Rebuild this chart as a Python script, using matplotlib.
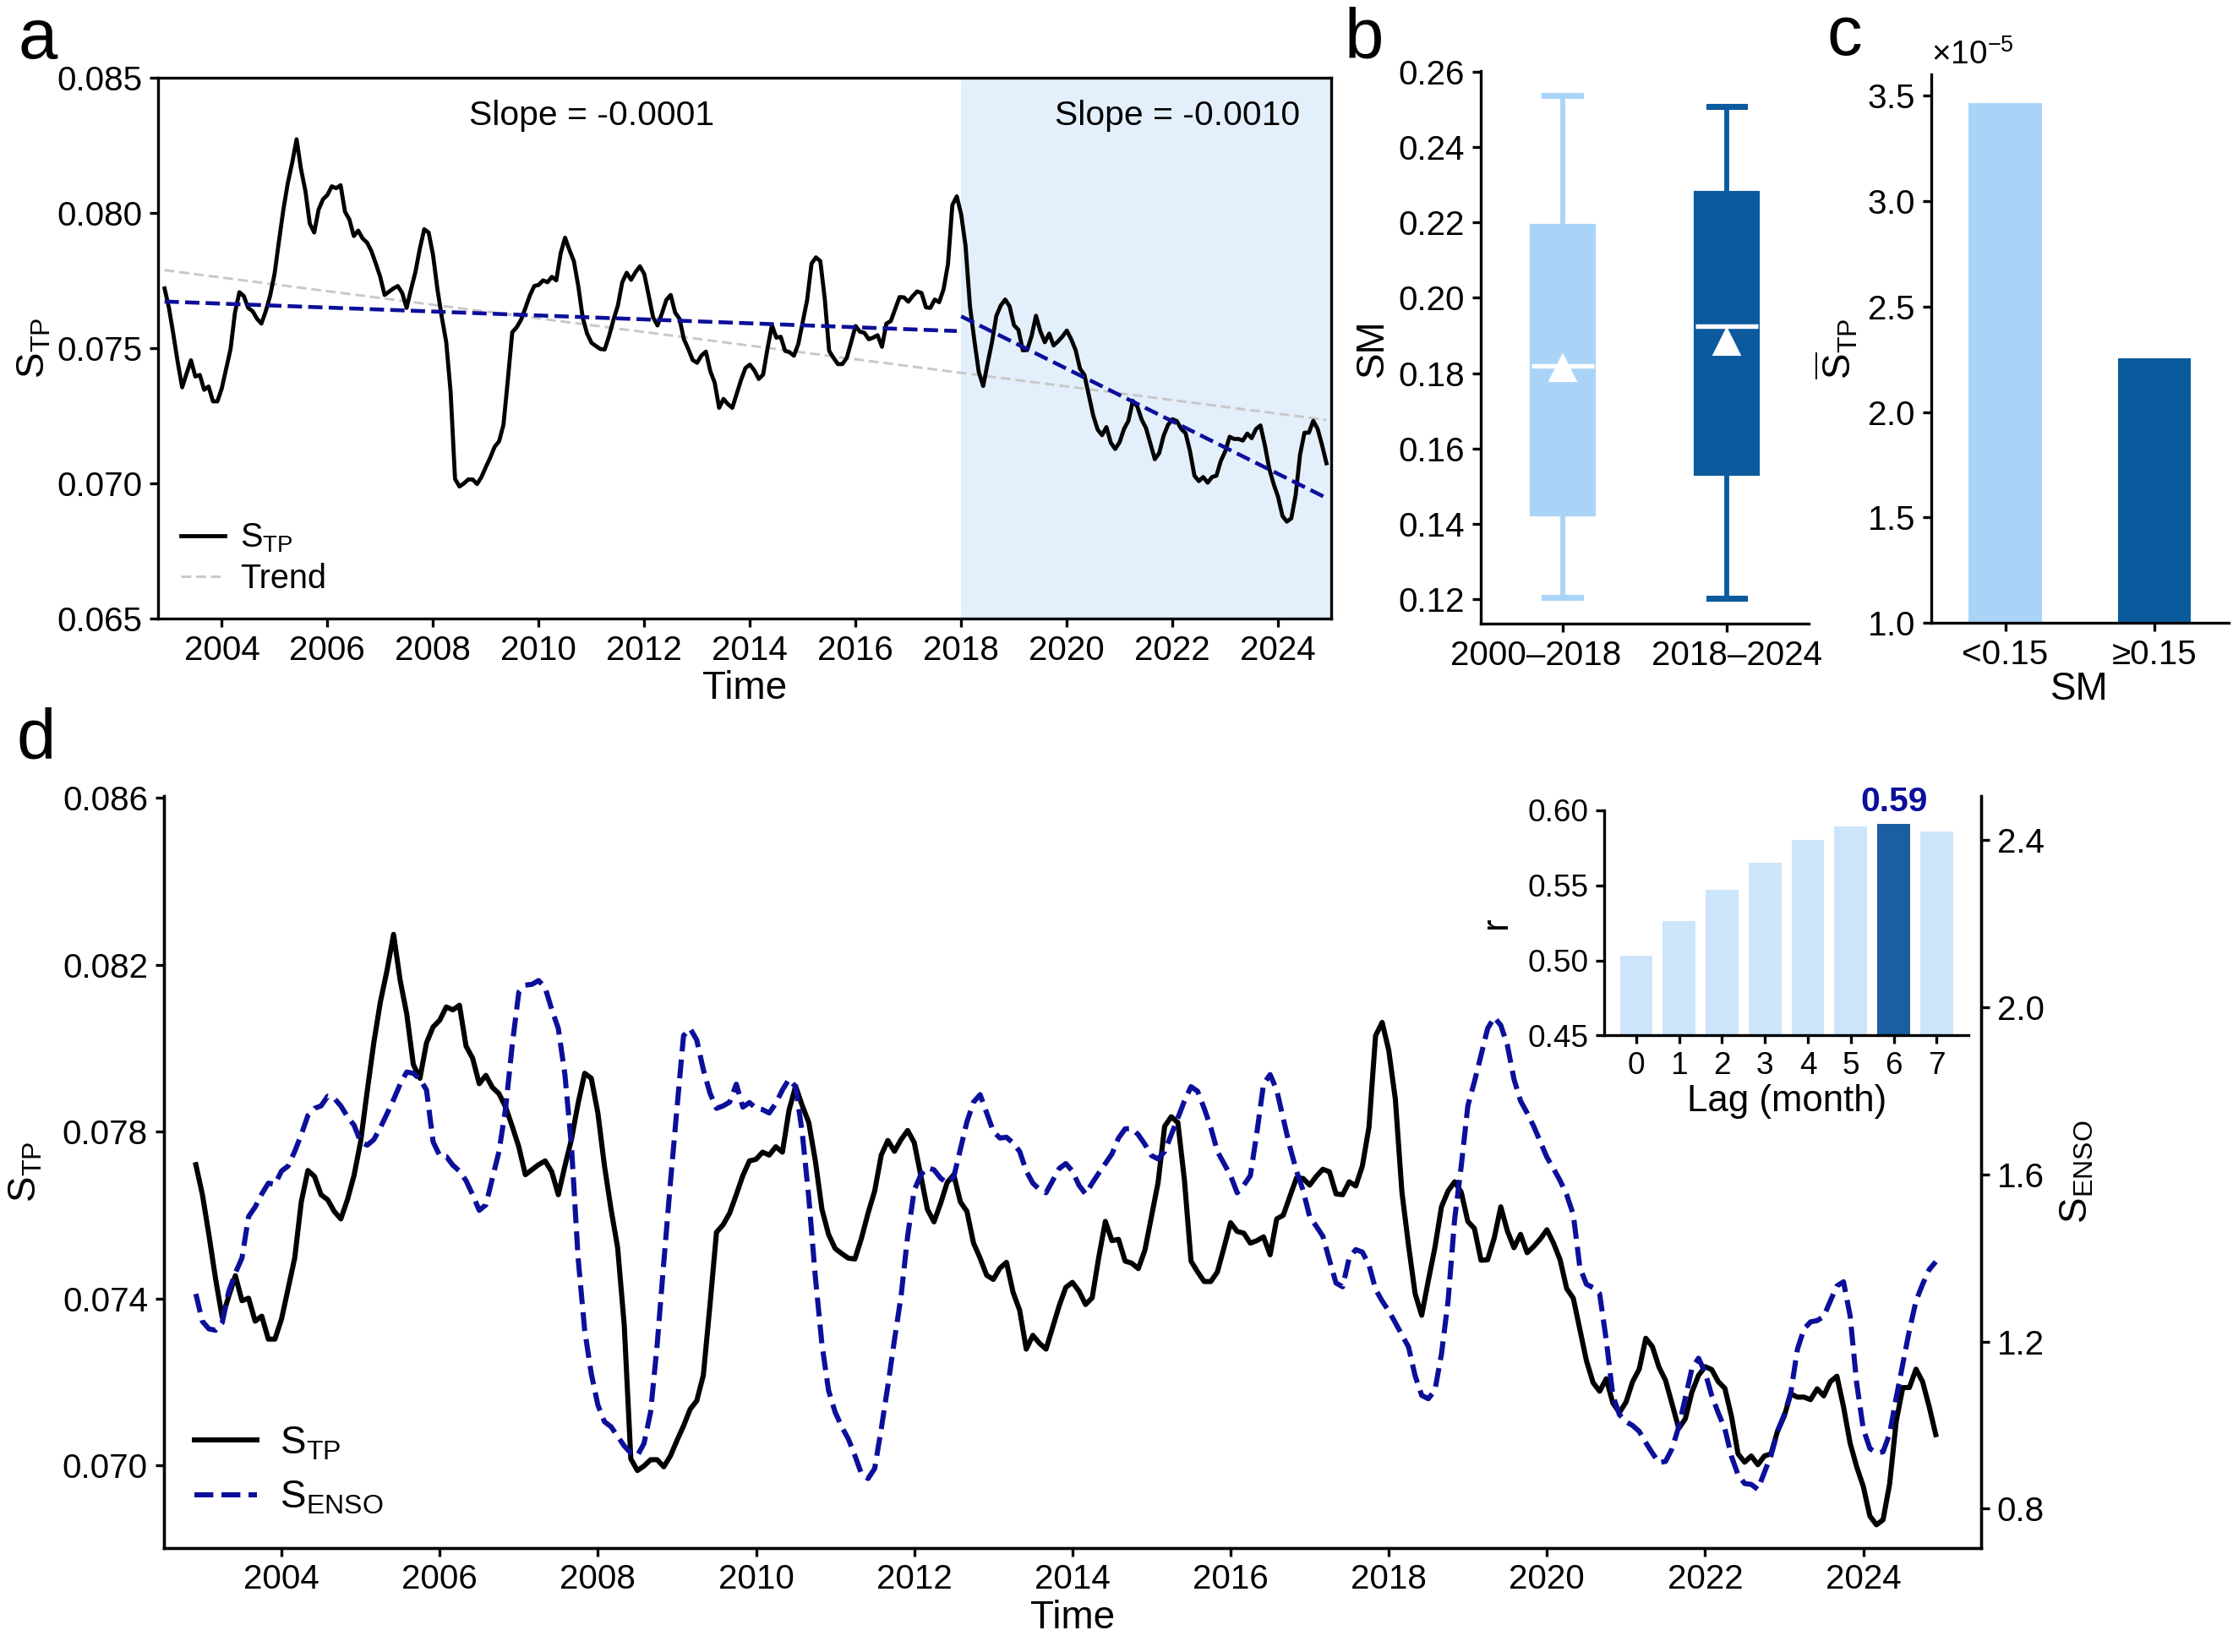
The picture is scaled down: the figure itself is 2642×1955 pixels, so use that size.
import numpy as np
import pandas as pd
import matplotlib
matplotlib.use('Agg')
import matplotlib.pyplot as plt
import matplotlib.transforms as mtransforms
from matplotlib.ticker import ScalarFormatter

plt.rcParams['font.family'] = ['Liberation Sans', 'DejaVu Sans']
plt.rcParams['mathtext.fontset'] = 'custom'
plt.rcParams['mathtext.rm'] = 'Liberation Sans'
plt.rcParams['mathtext.it'] = 'Liberation Sans:italic'
plt.rcParams['mathtext.bf'] = 'Liberation Sans:bold'
plt.rcParams['axes.linewidth'] = 0.8
plt.rcParams['xtick.major.width'] = 0.8
plt.rcParams['ytick.major.width'] = 0.8
plt.rcParams['xtick.major.size'] = 2.5
plt.rcParams['ytick.major.size'] = 2.5
plt.rcParams['xtick.major.pad'] = 2
plt.rcParams['ytick.major.pad'] = 2
plt.rcParams['xtick.labelsize'] = 9.7
plt.rcParams['ytick.labelsize'] = 9.7

# monthly series, Dec 2002 - Dec 2024
months = pd.date_range('2002-12-01', '2024-12-01', freq='MS')
t = np.asarray(months.year + (months.month - 1) / 12.0)

s_tp = [
    0.07721, 0.07649, 0.07551, 0.07447, 0.07355, 0.07406, 0.07455, 0.07395, 0.07401, 0.07346,
    0.07358, 0.07303, 0.07303, 0.07351, 0.07424, 0.07497, 0.07632, 0.07707, 0.07693, 0.07649,
    0.07637, 0.07609, 0.07591, 0.07637, 0.07695, 0.07776, 0.07897, 0.08013, 0.08111, 0.08186,
    0.08273, 0.08163, 0.08082, 0.07961, 0.07928, 0.08013, 0.08051, 0.08067, 0.08099, 0.08092,
    0.08103, 0.08005, 0.07976, 0.07915, 0.07935, 0.07906, 0.07891, 0.07859, 0.07813, 0.07764,
    0.07697, 0.07709, 0.07721, 0.07730, 0.07704, 0.07649, 0.07718, 0.07782, 0.07868, 0.07940,
    0.07928, 0.07845, 0.07718, 0.07614, 0.07522, 0.07337, 0.07016, 0.06988, 0.06999, 0.07014,
    0.07014, 0.06997, 0.07023, 0.07060, 0.07095, 0.07135, 0.07155, 0.07216, 0.07383, 0.07559,
    0.07577, 0.07605, 0.07649, 0.07695, 0.07730, 0.07734, 0.07751, 0.07744, 0.07764, 0.07751,
    0.07851, 0.07909, 0.07863, 0.07822, 0.07730, 0.07614, 0.07554, 0.07520, 0.07508, 0.07497,
    0.07495, 0.07545, 0.07605, 0.07658, 0.07744, 0.07779, 0.07753, 0.07781, 0.07803, 0.07774,
    0.07695, 0.07614, 0.07584, 0.07628, 0.07678, 0.07697, 0.07632, 0.07609, 0.07533, 0.07497,
    0.07456, 0.07446, 0.07473, 0.07487, 0.07415, 0.07372, 0.07279, 0.07312, 0.07293, 0.07279,
    0.07331, 0.07383, 0.07427, 0.07439, 0.07418, 0.07386, 0.07402, 0.07499, 0.07585, 0.07539,
    0.07542, 0.07490, 0.07485, 0.07472, 0.07516, 0.07597, 0.07678, 0.07813, 0.07836, 0.07822,
    0.07684, 0.07490, 0.07464, 0.07441, 0.07441, 0.07464, 0.07522, 0.07582, 0.07561, 0.07557,
    0.07533, 0.07539, 0.07548, 0.07505, 0.07591, 0.07600, 0.07645, 0.07689, 0.07688, 0.07672,
    0.07693, 0.07710, 0.07704, 0.07651, 0.07649, 0.07680, 0.07670, 0.07718, 0.07811, 0.08030,
    0.08062, 0.07995, 0.07878, 0.07655, 0.07528, 0.07412, 0.07360, 0.07443, 0.07522, 0.07620,
    0.07658, 0.07680, 0.07655, 0.07585, 0.07568, 0.07492, 0.07493, 0.07545, 0.07620, 0.07562,
    0.07522, 0.07554, 0.07510, 0.07525, 0.07543, 0.07565, 0.07533, 0.07493, 0.07424, 0.07401,
    0.07326, 0.07251, 0.07199, 0.07178, 0.07208, 0.07150, 0.07127, 0.07152, 0.07201, 0.07231,
    0.07305, 0.07285, 0.07236, 0.07204, 0.07147, 0.07089, 0.07112, 0.07176, 0.07216, 0.07237,
    0.07230, 0.07201, 0.07185, 0.07118, 0.07028, 0.07008, 0.07023, 0.07002, 0.07023, 0.07028,
    0.07083, 0.07118, 0.07172, 0.07164, 0.07164, 0.07158, 0.07184, 0.07167, 0.07201, 0.07214,
    0.07141, 0.07054, 0.06997, 0.06950, 0.06879, 0.06858, 0.06870, 0.06956, 0.07106, 0.07187,
    0.07187, 0.07231, 0.07201, 0.07141, 0.07074,
]

s_enso = [
    1.314, 1.248, 1.230, 1.227, 1.245, 1.320, 1.364, 1.400, 1.499, 1.522,
    1.553, 1.579, 1.576, 1.608, 1.620, 1.655, 1.695, 1.741, 1.758, 1.764,
    1.787, 1.782, 1.764, 1.738, 1.718, 1.678, 1.670, 1.683, 1.712, 1.745,
    1.779, 1.816, 1.845, 1.842, 1.828, 1.802, 1.678, 1.645, 1.643, 1.622,
    1.608, 1.585, 1.551, 1.514, 1.527, 1.591, 1.655, 1.758, 1.909, 2.036,
    2.053, 2.055, 2.064, 2.047, 1.995, 1.949, 1.839, 1.666, 1.400, 1.227,
    1.123, 1.048, 1.008, 0.996, 0.973, 0.950, 0.933, 0.927, 0.956, 1.031,
    1.193, 1.389, 1.579, 1.758, 1.932, 1.949, 1.922, 1.851, 1.795, 1.758,
    1.764, 1.773, 1.816, 1.761, 1.772, 1.758, 1.755, 1.747, 1.770, 1.802,
    1.828, 1.810, 1.701, 1.545, 1.354, 1.193, 1.083, 1.031, 0.996, 0.967,
    0.927, 0.883, 0.872, 0.896, 0.991, 1.094, 1.204, 1.308, 1.452, 1.562,
    1.599, 1.616, 1.611, 1.591, 1.579, 1.594, 1.660, 1.726, 1.773, 1.791,
    1.747, 1.703, 1.687, 1.689, 1.675, 1.655, 1.608, 1.579, 1.564, 1.556,
    1.585, 1.614, 1.626, 1.608, 1.574, 1.553, 1.579, 1.603, 1.626, 1.649,
    1.687, 1.709, 1.710, 1.695, 1.672, 1.645, 1.637, 1.655, 1.695, 1.735,
    1.776, 1.810, 1.799, 1.758, 1.712, 1.655, 1.626, 1.597, 1.556, 1.574,
    1.597, 1.701, 1.816, 1.839, 1.802, 1.733, 1.666, 1.608, 1.562, 1.499,
    1.476, 1.452, 1.395, 1.340, 1.331, 1.400, 1.420, 1.414, 1.383, 1.325,
    1.297, 1.273, 1.245, 1.216, 1.187, 1.118, 1.071, 1.063, 1.083, 1.170,
    1.297, 1.493, 1.620, 1.764, 1.822, 1.885, 1.949, 1.976, 1.957, 1.909,
    1.828, 1.776, 1.747, 1.715, 1.678, 1.641, 1.614, 1.585, 1.551, 1.504,
    1.377, 1.337, 1.329, 1.314, 1.204, 1.071, 1.025, 1.008, 0.999, 0.985,
    0.958, 0.933, 0.910, 0.913, 0.944, 0.996, 1.066, 1.135, 1.160, 1.126,
    1.071, 1.029, 0.991, 0.925, 0.881, 0.860, 0.858, 0.846, 0.887, 0.927,
    0.985, 1.025, 1.077, 1.181, 1.230, 1.247, 1.250, 1.260, 1.297, 1.333,
    1.343, 1.262, 1.100, 0.991, 0.944, 0.933, 0.936, 0.979, 1.066, 1.146,
    1.227, 1.297, 1.337, 1.372, 1.391,
]

# panel b: SM box statistics per period
periods = ['2000–2018', '2018–2024']
sm_whislo = [0.1204, 0.1202]
sm_q1 = [0.1425, 0.1532]
sm_med = [0.1820, 0.1924]
sm_q3 = [0.2191, 0.2278]
sm_whishi = [0.2536, 0.2509]
sm_mean = [0.1812, 0.1881]

# panel c: mean S_TP by SM class
sm_classes = ['<0.15', '≥0.15']
stp_by_sm = [3.467e-5, 2.254e-5]

# inset: lagged correlation
lags = [0, 1, 2, 3, 4, 5, 6, 7]
r_lag = [0.503, 0.526, 0.547, 0.565, 0.580, 0.589, 0.591, 0.586]

slope_texts = ['Slope = -0.0001', 'Slope = -0.0010']

light = '#a9d4f8'
dark = '#0b5a9e'
navy = '#0c0f9a'
s_tp = np.array(s_tp)
s_enso = np.array(s_enso)

fig = plt.figure(figsize=(2642 / 300, 1955 / 300), dpi=300)

# ---------------- panel a ----------------
ax_a = fig.add_axes([0.0707, 0.6257, 0.5253, 0.3271])
ax_a.axvspan(2018, 2025.0, color='#e3effb', lw=0, zorder=0)
ax_a.plot(t, s_tp, color='black', lw=1.15, label=r'S$_{\mathrm{TP}}$', zorder=3)
p_all = np.polyfit(t, s_tp, 1)
ax_a.plot(t, np.polyval(p_all, t), color='#c8c8c8', lw=0.7, ls=(0, (4, 2)), label='Trend', zorder=2)
seg1 = t < 2018
seg2 = t >= 2018
for seg in [seg1, seg2]:
    p = np.polyfit(t[seg], s_tp[seg], 1)
    ax_a.plot(t[seg], np.polyval(p, t[seg]), color=navy, lw=1.1, ls='--', zorder=4)
ax_a.text(2011.0, 0.0836, slope_texts[0], ha='center', va='center', fontsize=9.8)
ax_a.text(2022.1, 0.0836, slope_texts[1], ha='center', va='center', fontsize=9.8)
ax_a.set_xlim(2002.79, 2025.0)
ax_a.set_ylim(0.065, 0.085)
ax_a.set_yticks([0.065, 0.070, 0.075, 0.080, 0.085])
ax_a.set_yticklabels(['0.065', '0.070', '0.075', '0.080', '0.085'])
ax_a.set_xticks(np.arange(2004, 2025, 2))
ax_a.set_xlabel('Time', fontsize=11, labelpad=1)
ax_a.set_ylabel(r'S$_{\mathrm{TP}}$', fontsize=11, labelpad=1)
ax_a.legend(loc='lower left', frameon=False, fontsize=9.5, handlelength=1.3,
            handletextpad=0.45, labelspacing=0.25, borderaxespad=0.3)

# ---------------- panel b ----------------
ax_b = fig.add_axes([0.663, 0.6223, 0.147, 0.3347])
stats = []
for i in range(2):
    stats.append(dict(label=periods[i], whislo=sm_whislo[i], q1=sm_q1[i], med=sm_med[i],
                      q3=sm_q3[i], whishi=sm_whishi[i], mean=sm_mean[i], fliers=[]))
bp = ax_b.bxp(stats, positions=[1, 2], widths=0.38, showmeans=True, patch_artist=True,
              showfliers=False)
for i, c in enumerate([light, dark]):
    bp['boxes'][i].set_facecolor(c)
    bp['boxes'][i].set_edgecolor(c)
    for w in bp['whiskers'][2 * i:2 * i + 2]:
        w.set_color(c)
        w.set_linewidth(1.4)
    for cp in bp['caps'][2 * i:2 * i + 2]:
        cp.set_color(c)
        cp.set_linewidth(1.7)
    bp['medians'][i].set_color('white')
    bp['medians'][i].set_linewidth(1.3)
    bp['means'][i].set_marker('^')
    bp['means'][i].set_markerfacecolor('white')
    bp['means'][i].set_markeredgecolor('white')
    bp['means'][i].set_markersize(6.5)
for cp in bp['caps']:
    mid = np.mean(cp.get_xdata())
    cp.set_xdata([mid - 0.11, mid + 0.11])
ax_b.set_xlim(0.5, 2.5)
ax_b.set_ylim(0.1134, 0.2602)
ax_b.set_yticks(np.arange(0.12, 0.261, 0.02))
ax_b.set_yticklabels(['%.2f' % v for v in np.arange(0.12, 0.261, 0.02)])
ax_b.set_ylabel('SM', fontsize=11, labelpad=2)
ax_b.spines['top'].set_visible(False)
ax_b.spines['right'].set_visible(False)
for lab, dx in zip(ax_b.get_xticklabels(), [-7.5, 3.0]):
    lab.set_transform(lab.get_transform() +
                      mtransforms.ScaledTranslation(dx / 72, 0, fig.dpi_scale_trans))

# ---------------- panel c ----------------
ax_c = fig.add_axes([0.8647, 0.6229, 0.1333, 0.3319])
ax_c.bar([0, 1], stp_by_sm, width=0.49, color=[light, dark])
ax_c.set_xlim(-0.5, 1.5)
ax_c.set_ylim(1.0e-5, 3.6e-5)
ax_c.set_yticks(np.arange(1.0, 3.51, 0.5) * 1e-5)
fmt = ScalarFormatter(useMathText=True)
fmt.set_powerlimits((0, 0))
ax_c.yaxis.set_major_formatter(fmt)
ax_c.yaxis.get_offset_text().set_fontsize(9.3)
ax_c.set_xticks([0, 1])
ax_c.set_xticklabels(sm_classes)
ax_c.set_xlabel('SM', fontsize=11, labelpad=0)
ax_c.set_ylabel(r'$\overline{\mathrm{S}}_{\mathrm{TP}}$', fontsize=11, labelpad=2)
ax_c.spines['top'].set_visible(False)
ax_c.spines['right'].set_visible(False)

# ---------------- panel d ----------------
ax_d = fig.add_axes([0.0733, 0.0631, 0.8139, 0.4552])
l1, = ax_d.plot(t, s_tp, color='black', lw=1.45, label=r'S$_{\mathrm{TP}}$')
ax_d.set_xlim(2002.51, 2025.49)
ax_d.set_ylim(0.06803, 0.08605)
ax_d.set_yticks([0.070, 0.074, 0.078, 0.082, 0.086])
ax_d.set_yticklabels(['0.070', '0.074', '0.078', '0.082', '0.086'])
ax_d.set_xticks(np.arange(2004, 2025, 2))
ax_d.set_xlabel('Time', fontsize=11, labelpad=1)
ax_d.set_ylabel(r'S$_{\mathrm{TP}}$', fontsize=11, labelpad=5)
ax_d.spines['top'].set_visible(False)

ax_d2 = ax_d.twinx()
l2, = ax_d2.plot(t, s_enso, color=navy, lw=1.45, ls='--', label=r'S$_{\mathrm{ENSO}}$')
ax_d2.set_ylim(0.7063, 2.5063)
ax_d2.set_yticks([0.8, 1.2, 1.6, 2.0, 2.4])
ax_d2.set_ylabel(r'S$_{\mathrm{ENSO}}$', fontsize=11, labelpad=4)
ax_d2.spines['top'].set_visible(False)
ax_d2.legend(handles=[l1, l2], loc='lower left', frameon=False, fontsize=11,
             handlelength=1.6, handletextpad=0.6, labelspacing=0.45, borderaxespad=0.4)

# inset: lag correlation
ax_in = fig.add_axes([0.7185, 0.3732, 0.1632, 0.1364])
ax_in.patch.set_alpha(0)
bar_cols = ['#cce5fb'] * len(lags)
imax = int(np.argmax(r_lag))
bar_cols[imax] = '#1a5fa0'
ax_in.bar(lags, r_lag, width=0.76, color=bar_cols)
ax_in.text(lags[imax], r_lag[imax] + 0.004, '%.2f' % r_lag[imax], ha='center', va='bottom',
           fontsize=9.8, fontweight='bold', color=navy)
ax_in.set_xlim(-0.74, 7.75)
ax_in.set_ylim(0.45, 0.60)
ax_in.set_yticks([0.45, 0.50, 0.55, 0.60])
ax_in.set_yticklabels(['0.45', '0.50', '0.55', '0.60'])
ax_in.set_xticks(lags)
ax_in.tick_params(labelsize=8.9, pad=2)
ax_in.set_xlabel('Lag (month)', fontsize=10.5, labelpad=1)
ax_in.set_ylabel('r', fontsize=10.5, labelpad=4)
ax_in.spines['top'].set_visible(False)
ax_in.spines['right'].set_visible(False)

# panel letters
fig.text(0.017, 0.976, 'a', fontsize=20, ha='center', va='center')
fig.text(0.611, 0.976, 'b', fontsize=20, ha='center', va='center')
fig.text(0.826, 0.978, 'c', fontsize=20, ha='center', va='center')
fig.text(0.016, 0.552, 'd', fontsize=20, ha='center', va='center')

fig.savefig('out.png', dpi=300)
